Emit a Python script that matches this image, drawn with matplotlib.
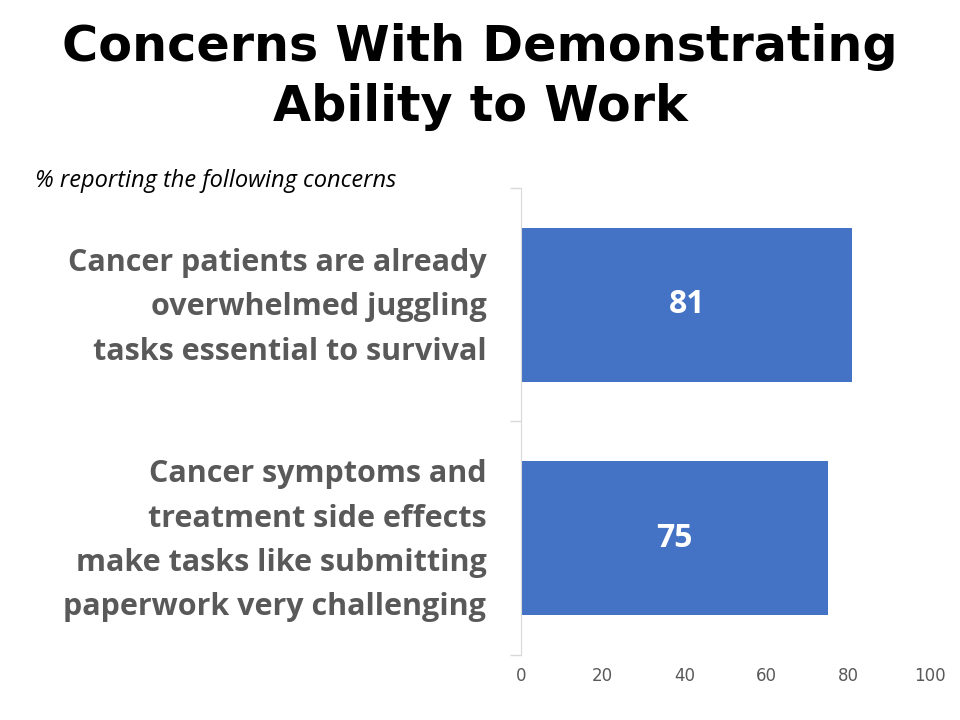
import matplotlib.pyplot as plt
import matplotlib.transforms as mtransforms
import numpy as np

# donnees
categories = [
    "Cancer patients are already\noverwhelmed juggling\ntasks essential to survival",
    "Cancer symptoms and\ntreatment side effects\nmake tasks like submitting\npaperwork very challenging",
]
valeurs = [81, 75]
xticks = [0, 20, 40, 60, 80, 100]

fig = plt.figure(figsize=(9.6, 7.2), dpi=100)
ax = fig.add_axes([0.5427, 0.0903, 0.4261, 0.6486])

y = np.arange(len(categories))
bars = ax.barh(y, valeurs, height=0.66, color="#4472c4")

for b, v in zip(bars, valeurs):
    ax.text(b.get_width() / 2, b.get_y() + b.get_height() / 2, str(v),
            ha="center", va="center", color="white", fontsize=23,
            fontweight="bold", family="Open Sans")

ax.set_xlim(0, 100)
ax.set_ylim(len(categories) - 0.5, -0.5)
ax.set_xticks(xticks)
ax.set_xticklabels([str(t) for t in xticks], color="#595959", fontsize=12)
ax.tick_params(axis="x", length=0, pad=9)

ax.set_yticks(y)
ax.set_yticklabels(categories, fontsize=22, fontweight="bold", color="#595959",
                   family="Open Sans", linespacing=1.62)
ax.set_yticks(np.arange(len(categories) + 1) - 0.5, minor=True)
ax.tick_params(axis="y", which="major", length=0, pad=25)
ax.tick_params(axis="y", which="minor", length=8, color="#d9d9d9", width=1)

# remonter un peu les libelles
decalage = mtransforms.ScaledTranslation(0, 0.08, fig.dpi_scale_trans)
for lab in ax.get_yticklabels():
    lab.set_transform(lab.get_transform() + decalage)

for s in ["top", "right", "bottom"]:
    ax.spines[s].set_visible(False)
ax.spines["left"].set_color("#d9d9d9")

fig.text(0.5, 0.935, "Concerns With Demonstrating", ha="center", va="center",
         fontsize=35.5, fontweight="bold", family="DejaVu Sans")
fig.text(0.5, 0.852, "Ability to Work", ha="center", va="center",
         fontsize=35.5, fontweight="bold", family="DejaVu Sans")
fig.text(0.036, 0.749, "% reporting the following concerns", ha="left", va="center",
         fontsize=17, style="italic", family="Open Sans")

plt.savefig("out.png", dpi=100)
